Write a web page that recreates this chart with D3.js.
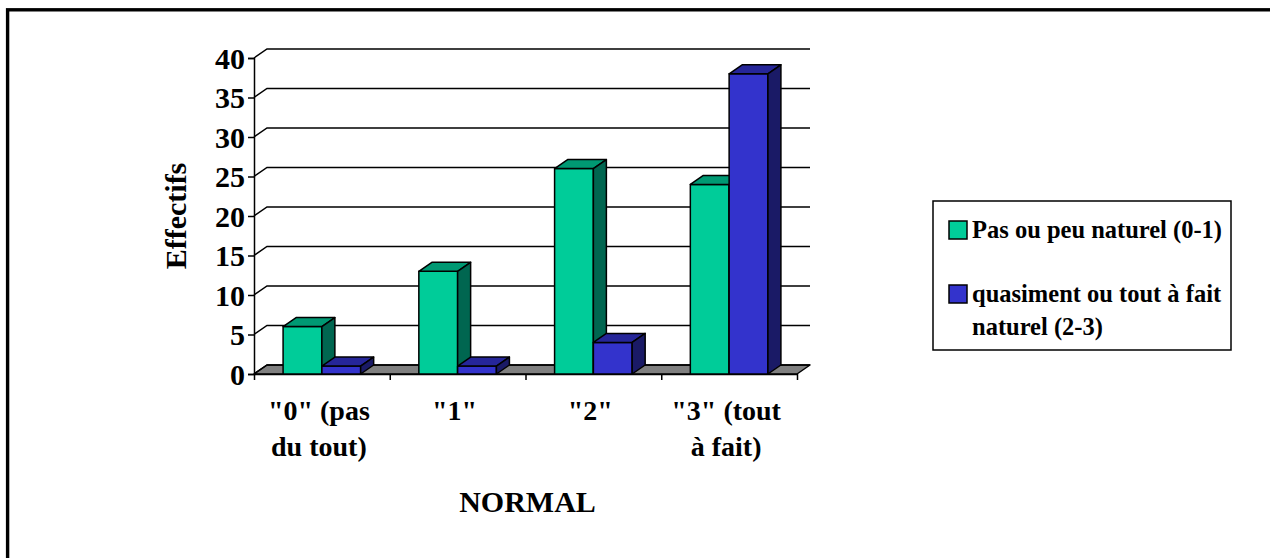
<!DOCTYPE html>
<html>
<head>
<meta charset="utf-8">
<script src="https://cdn.jsdelivr.net/npm/d3@7"></script>
<style>
  html, body { margin: 0; padding: 0; background: #fff; }
  svg { display: block; }
  text { font-family: "Liberation Serif", "Times New Roman", serif; font-weight: bold; fill: #000; }
</style>
</head>
<body>
<svg id="chart" width="1270" height="558"></svg>
<script>
// Category labels (one entry per line of text)
const categories = ['"0" (pas\ndu tout)', '"1"', '"2"', '"3" (tout\nà fait)'];
// Series
const seriesNames = ["Pas ou peu naturel (0-1)", "quasiment ou tout à fait\nnaturel (2-3)"];
const peuNaturel = [6, 13, 26, 24];
const toutNaturel = [1, 1, 4, 38];
const yTicks = [0, 5, 10, 15, 20, 25, 30, 35, 40];
const yTitle = "Effectifs";
const xTitle = "NORMAL";

const seriesValues = [peuNaturel, toutNaturel];
const faceColors = [
  { front: "#00CC99", top: "#009973", side: "#006650" },
  { front: "#3333CC", top: "#262699", side: "#1A1A66" }
];

const svg = d3.select("#chart");

// Outer frame
svg.append("rect")
  .attr("x", 7.6).attr("y", 9.8)
  .attr("width", 1300).attr("height", 600)
  .attr("fill", "none").attr("stroke", "#000").attr("stroke-width", 3.4);

// Oblique projection: depth offset of the back plane
const depth = { dx: 13, dy: -9 };
const frontLeft = 254, frontRight = 797;

const x = d3.scaleBand().domain(d3.range(categories.length)).range([frontLeft, frontRight]).paddingInner(0).paddingOuter(0);
const gapRatio = 1.5; // gap width relative to one bar
const barW = x.bandwidth() / (seriesValues.length + gapRatio);
const xInner = d3.scaleBand().domain(d3.range(seriesValues.length))
  .range([barW * gapRatio / 2, barW * gapRatio / 2 + barW * seriesValues.length]);
const y = d3.scaleLinear().domain([0, 40]).range([374, 58]);
const xEdge = d3.scaleLinear().domain([0, categories.length]).range([frontLeft, frontRight]);

const g = svg.append("g");

// Floor
const y0 = y(0);
g.append("path")
  .attr("d", `M${frontLeft},${y0}L${frontRight},${y0}L${frontRight + depth.dx},${y0 + depth.dy}L${frontLeft + depth.dx},${y0 + depth.dy}Z`)
  .attr("fill", "#808080").attr("stroke", "#000").attr("stroke-width", 1.5).attr("stroke-linejoin", "round");

// Back-wall gridlines
yTicks.forEach(t => {
  const yy = y(t);
  g.append("path")
    .attr("d", `M${frontLeft},${yy}L${frontLeft + depth.dx},${yy + depth.dy}L${frontRight + depth.dx},${yy + depth.dy}`)
    .attr("fill", "none").attr("stroke", "#000").attr("stroke-width", 1.5);
});

// Y axis
const yAxis = svg.append("g")
  .attr("transform", `translate(${frontLeft},0)`)
  .call(d3.axisLeft(y).tickValues(yTicks).tickSize(6).tickPadding(3));
yAxis.select(".domain").attr("stroke", "#000").attr("stroke-width", 1.5);
yAxis.selectAll(".tick line").attr("stroke", "#000").attr("stroke-width", 1.5);
yAxis.selectAll(".tick text").style("font-size", "30px").attr("dy", "0.34em");

// X axis with ticks at category boundaries
const xAxis = svg.append("g")
  .attr("transform", `translate(0,${y0})`)
  .call(d3.axisBottom(xEdge).tickValues(d3.range(categories.length + 1)).tickFormat("").tickSize(6).tickSizeOuter(0));
xAxis.select(".domain").attr("stroke", "#000").attr("stroke-width", 1.5);
xAxis.selectAll(".tick line").attr("stroke", "#000").attr("stroke-width", 1.5);

// Bars (front, top, side faces), drawn left to right
const bars = svg.append("g").attr("stroke", "#000").attr("stroke-width", 1.5).attr("stroke-linejoin", "round");
categories.forEach((c, ci) => {
  seriesValues.forEach((vals, si) => {
    const v = vals[ci];
    const x0 = x(ci) + xInner(si), x1 = x0 + barW;
    const yt = y(v);
    const col = faceColors[si];
    const bar = bars.append("g");
    bar.append("rect").attr("x", x0).attr("y", yt).attr("width", barW).attr("height", y0 - yt).attr("fill", col.front);
    bar.append("path")
      .attr("d", `M${x0},${yt}L${x0 + depth.dx},${yt + depth.dy}L${x1 + depth.dx},${yt + depth.dy}L${x1},${yt}Z`)
      .attr("fill", col.top);
    bar.append("path")
      .attr("d", `M${x1},${yt}L${x1 + depth.dx},${yt + depth.dy}L${x1 + depth.dx},${y0 + depth.dy}L${x1},${y0}Z`)
      .attr("fill", col.side);
  });
});

// Category labels
const catLabels = svg.append("g");
categories.forEach((c, ci) => {
  const cx = x(ci) + x.bandwidth() / 2 - 3;
  const t = catLabels.append("text")
    .attr("x", cx).attr("y", 420)
    .attr("text-anchor", "middle").style("font-size", "28px");
  c.split("\n").forEach((line, li) => {
    t.append("tspan").attr("x", cx).attr("dy", li === 0 ? 0 : 36).text(line);
  });
});

// Axis titles
svg.append("text")
  .attr("transform", `translate(186,${(y(0) + y(40)) / 2}) rotate(-90)`)
  .attr("text-anchor", "middle").style("font-size", "30px").text(yTitle);
svg.append("text")
  .attr("x", (frontLeft + frontRight) / 2 + 2).attr("y", 512)
  .attr("text-anchor", "middle").style("font-size", "30px").text(xTitle);

// Legend
const legend = svg.append("g").attr("transform", "translate(933,201)");
legend.append("rect").attr("width", 298).attr("height", 149)
  .attr("fill", "#fff").attr("stroke", "#000").attr("stroke-width", 1.5);
const legendRows = [24, 88];
seriesNames.forEach((name, si) => {
  const ry = legendRows[si];
  legend.append("rect").attr("x", 16).attr("y", ry - 4).attr("width", 18).attr("height", 18)
    .attr("fill", faceColors[si].front).attr("stroke", "#000").attr("stroke-width", 1.5);
  const t = legend.append("text").attr("x", 39).attr("y", ry + 13).style("font-size", "24.5px");
  name.split("\n").forEach((line, li) => {
    t.append("tspan").attr("x", 39).attr("dy", li === 0 ? 0 : 33).text(line);
  });
});
</script>
</body>
</html>
